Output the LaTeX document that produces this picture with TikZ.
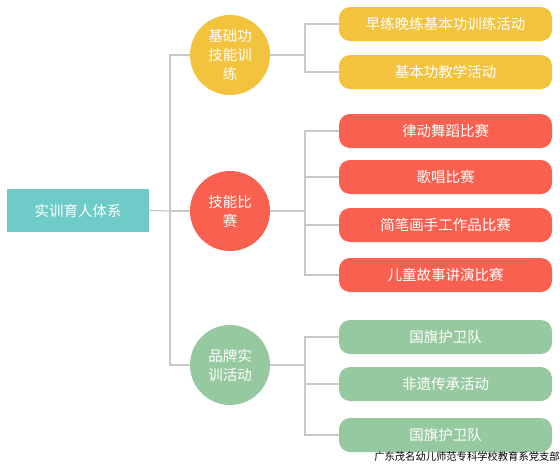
\documentclass[tikz,border=0pt]{standalone}
\usepackage{fontspec}
\newfontfamily\cjk{Noto Sans CJK SC}
\usepackage{xcolor}
\usetikzlibrary{backgrounds}
\pgfdeclarelayer{edgelayer}
\pgfdeclarelayer{nodelayer}
\pgfsetlayers{background,edgelayer,nodelayer,main}
\tikzstyle{none}=[inner sep=0mm]
\tikzstyle{link}=[line width=1.2pt,draw={rgb,255:red,200;green,200;blue,200}]
\tikzstyle{txt}=[text=white,font=\cjk\fontsize{14.5}{19}\selectfont,align=center,inner sep=0pt]
\tikzstyle{rootbox}=[txt,shape=rectangle,minimum width=142pt,minimum height=43pt]
\tikzstyle{hub}=[txt,shape=circle,minimum size=80pt]
\tikzstyle{leaf}=[txt,shape=rectangle,rounded corners=11pt,minimum width=213pt,minimum height=34pt]
\tikzstyle{yn}=[fill=black]
\tikzstyle{rn}=[fill=black]
\tikzstyle{gn}=[fill=black]
\tikzset{
	rootbox/.append style={fill={rgb,255:red,110;green,203;blue,199}},
	yn/.append style={fill={rgb,255:red,244;green,195;blue,62}},
	rn/.append style={fill={rgb,255:red,250;green,96;blue,80}},
	gn/.append style={fill={rgb,255:red,151;green,201;blue,160}}
}
\begin{document}
\begin{tikzpicture}[x=1pt,y=-1pt]
	\useasboundingbox (0, 0) rectangle (560, 464);
	\begin{pgfonlayer}{nodelayer}
		\node [style=rootbox] (root) at (78, 210.5) {实训育人体系};
		\node [style=hub, style=yn] (c1) at (230, 55) {基础功\\技能训\\练};
		\node [style=hub, style=rn] (c2) at (230, 211) {技能比\\赛};
		\node [style=hub, style=gn] (c3) at (230, 365) {品牌实\\训活动};
		\node [style=leaf, style=yn] (b11) at (445.5, 24) {早练晚练基本功训练活动};
		\node [style=leaf, style=yn] (b12) at (445.5, 72) {基本功教学活动};
		\node [style=leaf, style=rn] (b21) at (445.5, 131) {律动舞蹈比赛};
		\node [style=leaf, style=rn] (b22) at (445.5, 177) {歌唱比赛};
		\node [style=leaf, style=rn] (b23) at (445.5, 225) {简笔画手工作品比赛};
		\node [style=leaf, style=rn] (b24) at (445.5, 275) {儿童故事讲演比赛};
		\node [style=leaf, style=gn] (b31) at (445.5, 337) {国旗护卫队};
		\node [style=leaf, style=gn] (b32) at (445.5, 384) {非遗传承活动};
		\node [style=leaf, style=gn] (b33) at (445.5, 435) {国旗护卫队};
		\node [style=none, font=\cjk\fontsize{10.3}{12}\selectfont] (mark) at (467, 457) {广东茂名幼儿师范专科学校教育系党支部};
	\end{pgfonlayer}
	\begin{pgfonlayer}{edgelayer}
		\coordinate (trunk) at (170, 211);
		\coordinate (k1) at (305, 55);
		\coordinate (k2) at (305, 211);
		\coordinate (k3) at (305, 365);
		\draw [style=link] (root.east) -- (trunk);
		\draw [style=link] (trunk) |- (c1);
		\draw [style=link] (trunk) -- (c2);
		\draw [style=link] (trunk) |- (c3);
		\draw [style=link] (c1) -- (k1);
		\draw [style=link] (c2) -- (k2);
		\draw [style=link] (c3) -- (k3);
		\draw [style=link] (k1) |- (b11.west);
		\draw [style=link] (k1) |- (b12.west);
		\draw [style=link] (k2) |- (b21.west);
		\draw [style=link] (k2) |- (b22.west);
		\draw [style=link] (k2) |- (b23.west);
		\draw [style=link] (k2) |- (b24.west);
		\draw [style=link] (k3) |- (b31.west);
		\draw [style=link] (k3) |- (b32.west);
		\draw [style=link] (k3) |- (b33.west);
	\end{pgfonlayer}
\end{tikzpicture}
\end{document}
